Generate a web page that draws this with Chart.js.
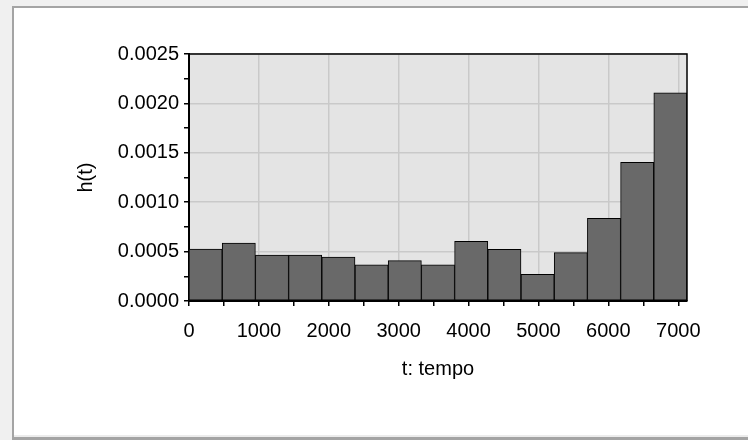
<!DOCTYPE html>
<html>
<head>
<meta charset="utf-8">
<script src="https://cdn.jsdelivr.net/npm/chart.js@4"></script>
<style>
  html, body { margin: 0; padding: 0; background: #f0f0f0; }
  body { width: 748px; height: 440px; position: relative; overflow: hidden; }
  #frame {
    position: absolute; left: 12px; top: 6px; width: 760px; height: 429px;
    background: #ffffff;
    border-left: 2px solid #a4a4a4; border-top: 2px solid #a4a4a4;
    border-bottom: 3px solid #a4a4a4;
    box-shadow: inset 0 -2px 0 #ececec;
  }
  #hist { position: absolute; left: 0; top: 0; }
</style>
</head>
<body>
<div id="frame"></div>
<canvas id="hist" width="748" height="440"></canvas>
<script>
// bordi delle classi (t) e altezze h(t)
const binEdges = [0, 475, 950, 1425, 1900, 2375, 2850, 3325, 3800, 4275, 4750, 5225, 5700, 6175, 6650, 7125];
const hValues = [0.000526, 0.000587, 0.000466, 0.000466, 0.000445, 0.000367, 0.000408, 0.000367,
                 0.000604, 0.000523, 0.000270, 0.000489, 0.000837, 0.001404, 0.002108];
// tacche: ogni 500 su x, ogni 0.00025 su y; etichette solo sulle principali
const xTickValues = [0, 500, 1000, 1500, 2000, 2500, 3000, 3500, 4000, 4500, 5000, 5500, 6000, 6500, 7000];
const xTickLabels = ["0", "1000", "2000", "3000", "4000", "5000", "6000", "7000"];
const yTickValues = [0, 0.00025, 0.0005, 0.00075, 0.001, 0.00125, 0.0015, 0.00175, 0.002, 0.00225, 0.0025];
const yTickLabels = ["0.0000", "0.0005", "0.0010", "0.0015", "0.0020", "0.0025"];

const points = hValues.map((h, i) => ({ x: (binEdges[i] + binEdges[i + 1]) / 2, y: h }));
const font = { family: "'Liberation Sans', Arial, sans-serif", size: 20 };
const gridGray = "#c9c9c9";
const none = "rgba(0,0,0,0)";

// sfondo grigio dell'area e bordo superiore/destro
const plotFrame = {
  id: "plotFrame",
  beforeDraw(chart) {
    const { ctx, chartArea: a } = chart;
    ctx.save();
    ctx.fillStyle = "#e4e4e4";
    ctx.fillRect(a.left, a.top, a.right - a.left, a.bottom - a.top);
    ctx.restore();
  },
  afterDraw(chart) {
    const { ctx, chartArea: a } = chart;
    ctx.save();
    ctx.strokeStyle = "#000";
    ctx.lineWidth = 1.5;
    ctx.beginPath();
    ctx.moveTo(a.left, a.top);
    ctx.lineTo(a.right, a.top);
    ctx.lineTo(a.right, a.bottom);
    ctx.stroke();
    ctx.restore();
  }
};

new Chart(document.getElementById("hist"), {
  type: "bar",
  data: {
    datasets: [{
      data: points,
      backgroundColor: "#696969",
      borderColor: "#000",
      borderWidth: 1,
      borderSkipped: false,
      barPercentage: 1,
      categoryPercentage: 1
    }]
  },
  options: {
    responsive: false,
    animation: false,
    layout: { padding: { left: 74, top: 54, right: 61, bottom: 59 } },
    plugins: { legend: { display: false }, tooltip: { enabled: false } },
    scales: {
      x: {
        type: "linear",
        offset: false,
        min: binEdges[0],
        max: binEdges[binEdges.length - 1],
        afterBuildTicks: (s) => { s.ticks = xTickValues.map(v => ({ value: v })); },
        afterFit: (s) => { s.height = 80; },
        ticks: {
          autoSkip: false,
          maxRotation: 0,
          padding: 13,
          color: "#000",
          font: font,
          callback: (v) => xTickLabels.includes(String(v)) ? String(v) : ""
        },
        grid: {
          offset: false,
          color: (c) => (c.tick && xTickLabels.includes(String(c.tick.value))) ? gridGray : none,
          lineWidth: 1.5,
          tickColor: "#000",
          tickWidth: 1.5,
          tickLength: 5
        },
        border: { color: "#000", width: 2 },
        title: { display: true, text: "t: tempo", color: "#000", font: font, padding: 0 }
      },
      y: {
        min: 0,
        max: 0.0025,
        afterBuildTicks: (s) => { s.ticks = yTickValues.map(v => ({ value: v })); },
        afterFit: (s) => { s.width = 115; },
        ticks: {
          autoSkip: false,
          padding: 5,
          color: "#000",
          font: font,
          callback: (v) => {
            const lbl = v.toFixed(4);
            return yTickLabels.includes(lbl) ? lbl : "";
          }
        },
        grid: {
          color: (c) => (c.tick && yTickLabels.includes(c.tick.value.toFixed(4))) ? gridGray : none,
          lineWidth: 1.5,
          tickColor: "#000",
          tickWidth: 1.5,
          tickLength: 5
        },
        border: { color: "#000", width: 2 },
        title: { display: true, text: "h(t)", color: "#000", font: font, padding: 0 }
      }
    }
  },
  plugins: [plotFrame]
});
</script>
</body>
</html>
